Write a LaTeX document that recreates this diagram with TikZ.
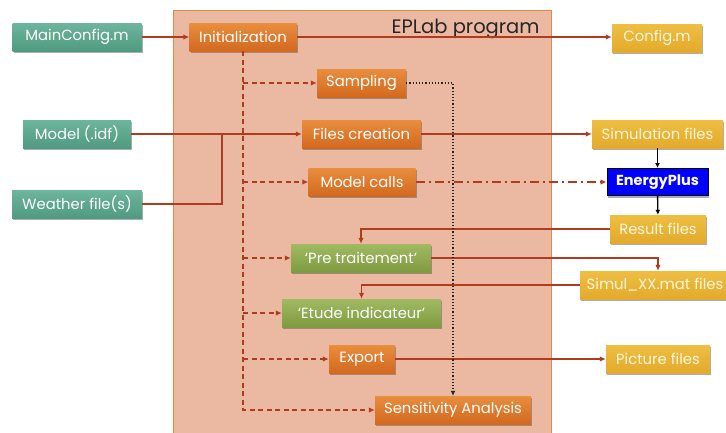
\documentclass[tikz,border=0pt]{standalone}
\usepackage{fontspec}
\setmainfont{Poppins}
\usetikzlibrary{arrows.meta,shadows,calc}

\definecolor{arrred}{HTML}{B23A1E}
\definecolor{bgfill}{HTML}{EBB9A2}
\definecolor{bgline}{HTML}{E08A45}
\definecolor{tealtop}{HTML}{6DB59C}
\definecolor{tealbot}{HTML}{4F9A80}
\definecolor{orgtop}{HTML}{E98D3E}
\definecolor{orgbot}{HTML}{D2691F}
\definecolor{yeltop}{HTML}{EEBE42}
\definecolor{yelbot}{HTML}{E3AA2C}
\definecolor{grntop}{HTML}{A0BA62}
\definecolor{grnbot}{HTML}{7F9B40}
\definecolor{yeltext}{HTML}{FFF6DC}

\tikzset{
  box/.style={rectangle, minimum height=28pt, inner sep=0pt, text=white,
    font=\fontsize{14.8}{16}\selectfont,
    drop shadow={shadow xshift=1.2pt, shadow yshift=-2.2pt, opacity=0.45, fill=black!70}},
  inputbox/.style={box, top color=tealtop, bottom color=tealbot},
  stagebox/.style={box, top color=orgtop, bottom color=orgbot},
  postbox/.style={box, top color=grntop, bottom color=grnbot},
  filebox/.style={box, top color=yeltop, bottom color=yelbot, text=yeltext},
  simbox/.style={rectangle, minimum height=27pt, inner sep=0pt, fill=blue, draw=black,
    line width=1pt, text=white, font=\fontsize{14.5}{16}\selectfont\bfseries,
    drop shadow={shadow xshift=1.2pt, shadow yshift=-2.2pt, opacity=0.45, fill=black!70}},
  flow/.style={draw=arrred, line width=1.5pt, -{Latex[length=6pt,width=5.5pt]}},
  link/.style={draw=arrred, line width=1.5pt},
  ctrl/.style={draw=arrred, line width=1.5pt, dash pattern=on 5pt off 3.5pt, -{Latex[length=6pt,width=5.5pt]}},
  call/.style={draw=arrred, line width=1.5pt, dash pattern=on 9pt off 4pt on 2pt off 4pt, -{Latex[length=6pt,width=5.5pt]}},
  sim/.style={draw=black, line width=1.4pt, -{Latex[length=5pt,width=5pt]}},
  samp/.style={draw=black!85, line width=1.2pt, dotted, -{Latex[length=5pt,width=5pt]}},
}

\begin{document}
\begin{tikzpicture}[x=1pt, y=-1pt]
  \useasboundingbox (0,0) rectangle (726,432);
  \fill[white] (0,0) rectangle (726,432);

  % program frame
  \draw[fill=bgfill, draw=bgline, line width=1pt] (173,10) rectangle (551,440);
  \node[anchor=base east, font=\fontsize{19.5}{22}\selectfont, text=black!85] (title) at (543,33) {EPLab program};

  % inputs
  \node[inputbox, minimum width=129pt] (main) at (77,37) {MainConfig.m};
  \node[inputbox, minimum width=108pt] (model) at (77,134) {Model (.idf)};
  \node[inputbox, minimum width=130pt] (weather) at (77,204) {Weather file(s)};

  % program stages
  \node[stagebox, minimum width=107pt] (init) at (243,37) {Initialization};
  \node[stagebox, minimum width=89pt] (sampling) at (361.5,83) {Sampling};
  \node[stagebox, minimum width=119pt] (files) at (361.5,134) {Files creation};
  \node[stagebox, minimum width=107pt] (calls) at (362,182) {Model calls};
  \node[postbox, minimum width=140pt] (pre) at (361,258) {‘Pre traitement’};
  \node[postbox, minimum width=159pt] (etude) at (361.5,313) {‘Etude indicateur’};
  \node[stagebox, minimum width=66pt] (export) at (362,359) {Export};
  \node[stagebox, minimum width=156pt] (sens) at (453,410) {Sensitivity Analysis};

  % files
  \node[filebox, minimum width=90pt] (config) at (657,38) {Config.m};
  \node[filebox, minimum width=131pt] (simfiles) at (657.5,134) {Simulation files};
  \node[simbox, minimum width=101pt] (eplus) at (657.5,182) {EnergyPlus};
  \node[filebox, minimum width=96pt] (result) at (658,229) {Result files};
  \node[filebox, minimum width=150pt] (simul) at (655,285) {Simul\_XX.mat files};
  \node[filebox, minimum width=104pt] (picture) at (658,359) {Picture files};

  % main flow
  \draw[flow] (main) -- (init);
  \draw[flow] (init.east) -- (init.east -| config.west);
  \draw[flow] (model.east) -- (files.west);
  \coordinate (join) at (222,134);
  \draw[link] (weather.east) -| (join);
  \draw[flow] (files) -- (simfiles);
  \draw[call] (calls) -- (eplus);
  \draw[sim] (simfiles) -- (eplus);
  \draw[sim] (eplus) -- (result);
  \draw[flow] (result.west) -| (pre.north);
  \draw[flow] (pre.east) -| ([xshift=3pt]simul.north);
  \draw[flow] (simul.west) -| (etude.north);
  \draw[flow] (export) -- (picture);

  % control from initialization
  \coordinate (trunk) at (init.south |- sens.west);
  \draw[ctrl] (init.south) -- (trunk) -- (sens.west);
  \draw[ctrl] (init.south |- sampling.west) -- (sampling.west);
  \draw[ctrl] (init.south |- calls.west) -- (calls.west);
  \draw[ctrl] (init.south |- pre.west) -- (pre.west);
  \draw[ctrl] (init.south |- etude.west) -- (etude.west);
  \draw[ctrl] (init.south |- export.west) -- (export.west);

  % sampling feeds the sensitivity analysis
  \draw[samp] (sampling.east) -| (sens.north);
\end{tikzpicture}
\end{document}
